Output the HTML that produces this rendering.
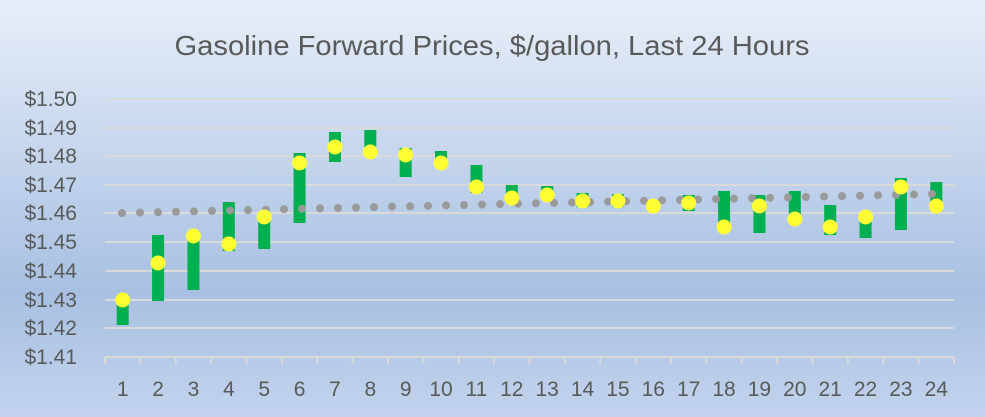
<!DOCTYPE html>
<html><head><style>
html,body{margin:0;padding:0;background:#c3d3ec;}
body{width:985px;height:417px;overflow:hidden;font-family:"Liberation Sans",sans-serif;}
</style></head><body>
<svg width="985" height="417" xmlns="http://www.w3.org/2000/svg" style="display:block">
<defs>
<linearGradient id="bg" x1="0" y1="0" x2="0" y2="1">
<stop offset="0" stop-color="#e8eef8"/>
<stop offset="0.3" stop-color="#ccdaef"/>
<stop offset="0.7" stop-color="#a8c0e2"/>
<stop offset="1" stop-color="#c3d3ec"/>
</linearGradient>
</defs>
<rect width="985" height="417" fill="url(#bg)"/>
<text x="492" y="55" text-anchor="middle" font-size="28" fill="#595959" textLength="635" lengthAdjust="spacingAndGlyphs">Gasoline Forward Prices, $/gallon, Last 24 Hours</text>
<g stroke="#d9d9d9" stroke-width="2">
<line x1="105" y1="99" x2="954" y2="99"/>
<line x1="105" y1="128" x2="954" y2="128"/>
<line x1="105" y1="156" x2="954" y2="156"/>
<line x1="105" y1="185" x2="954" y2="185"/>
<line x1="105" y1="213" x2="954" y2="213"/>
<line x1="105" y1="242" x2="954" y2="242"/>
<line x1="105" y1="271" x2="954" y2="271"/>
<line x1="105" y1="300" x2="954" y2="300"/>
<line x1="105" y1="328" x2="954" y2="328"/>
<line x1="105" y1="357" x2="954" y2="357"/>
</g>
<g id="ticks" stroke="#d9d9d9" stroke-width="2"></g>
<g font-size="21" fill="#595959" text-anchor="end">
<text x="77" y="106">$1.50</text><text x="77" y="135">$1.49</text><text x="77" y="163">$1.48</text>
<text x="77" y="192">$1.47</text><text x="77" y="220">$1.46</text><text x="77" y="249">$1.45</text>
<text x="77" y="278">$1.44</text><text x="77" y="307">$1.43</text><text x="77" y="335">$1.42</text>
<text x="77" y="364">$1.41</text>
</g>
<g id="xl" font-size="21" fill="#595959" text-anchor="middle"></g>
<g id="bars" fill="#00b050"></g>
<g id="gd" fill="#9a9a9a"></g>
<g id="dots" fill="#ffff33"></g>
</svg>
<script>
var ns="http://www.w3.org/2000/svg";
function el(p,t,a,txt){var e=document.createElementNS(ns,t);for(var k in a)e.setAttribute(k,a[k]);if(txt)e.textContent=txt;document.getElementById(p).appendChild(e);}
var b=[[295,325,300],[235,301,263],[231,290,236],[202,251,244],[212,249,217],[153,223,163],[132,162,147],[130,155,152],[148,177,155],[151,168,163],[165,193,187],[185,200,198],[186,197,195],[193,207,201],[194,207,201],[202,208,206],[195,211,203],[191,223,227],[195,233,206],[191,217,219],[205,235,227],[213,238,217],[178,230,187],[182,205,206]];
var w=849/24;
for(var i=0;i<=24;i++){var x=105+w*i;el("ticks","line",{x1:x,y1:357,x2:x,y2:364});}
for(var i=0;i<24;i++){var cx=105+w*(i+0.5);
el("xl","text",{x:cx,y:396},""+(i+1));
el("bars","rect",{x:cx-6,y:b[i][0],width:12,height:b[i][1]-b[i][0]});
el("dots","circle",{cx:cx,cy:b[i][2],r:7.5});}
for(var x=122;x<=935;x+=18){var y=213+(194-213)*(x-122)/(933-122);el("gd","circle",{cx:x,cy:y,r:4});}
</script>
</body></html>
